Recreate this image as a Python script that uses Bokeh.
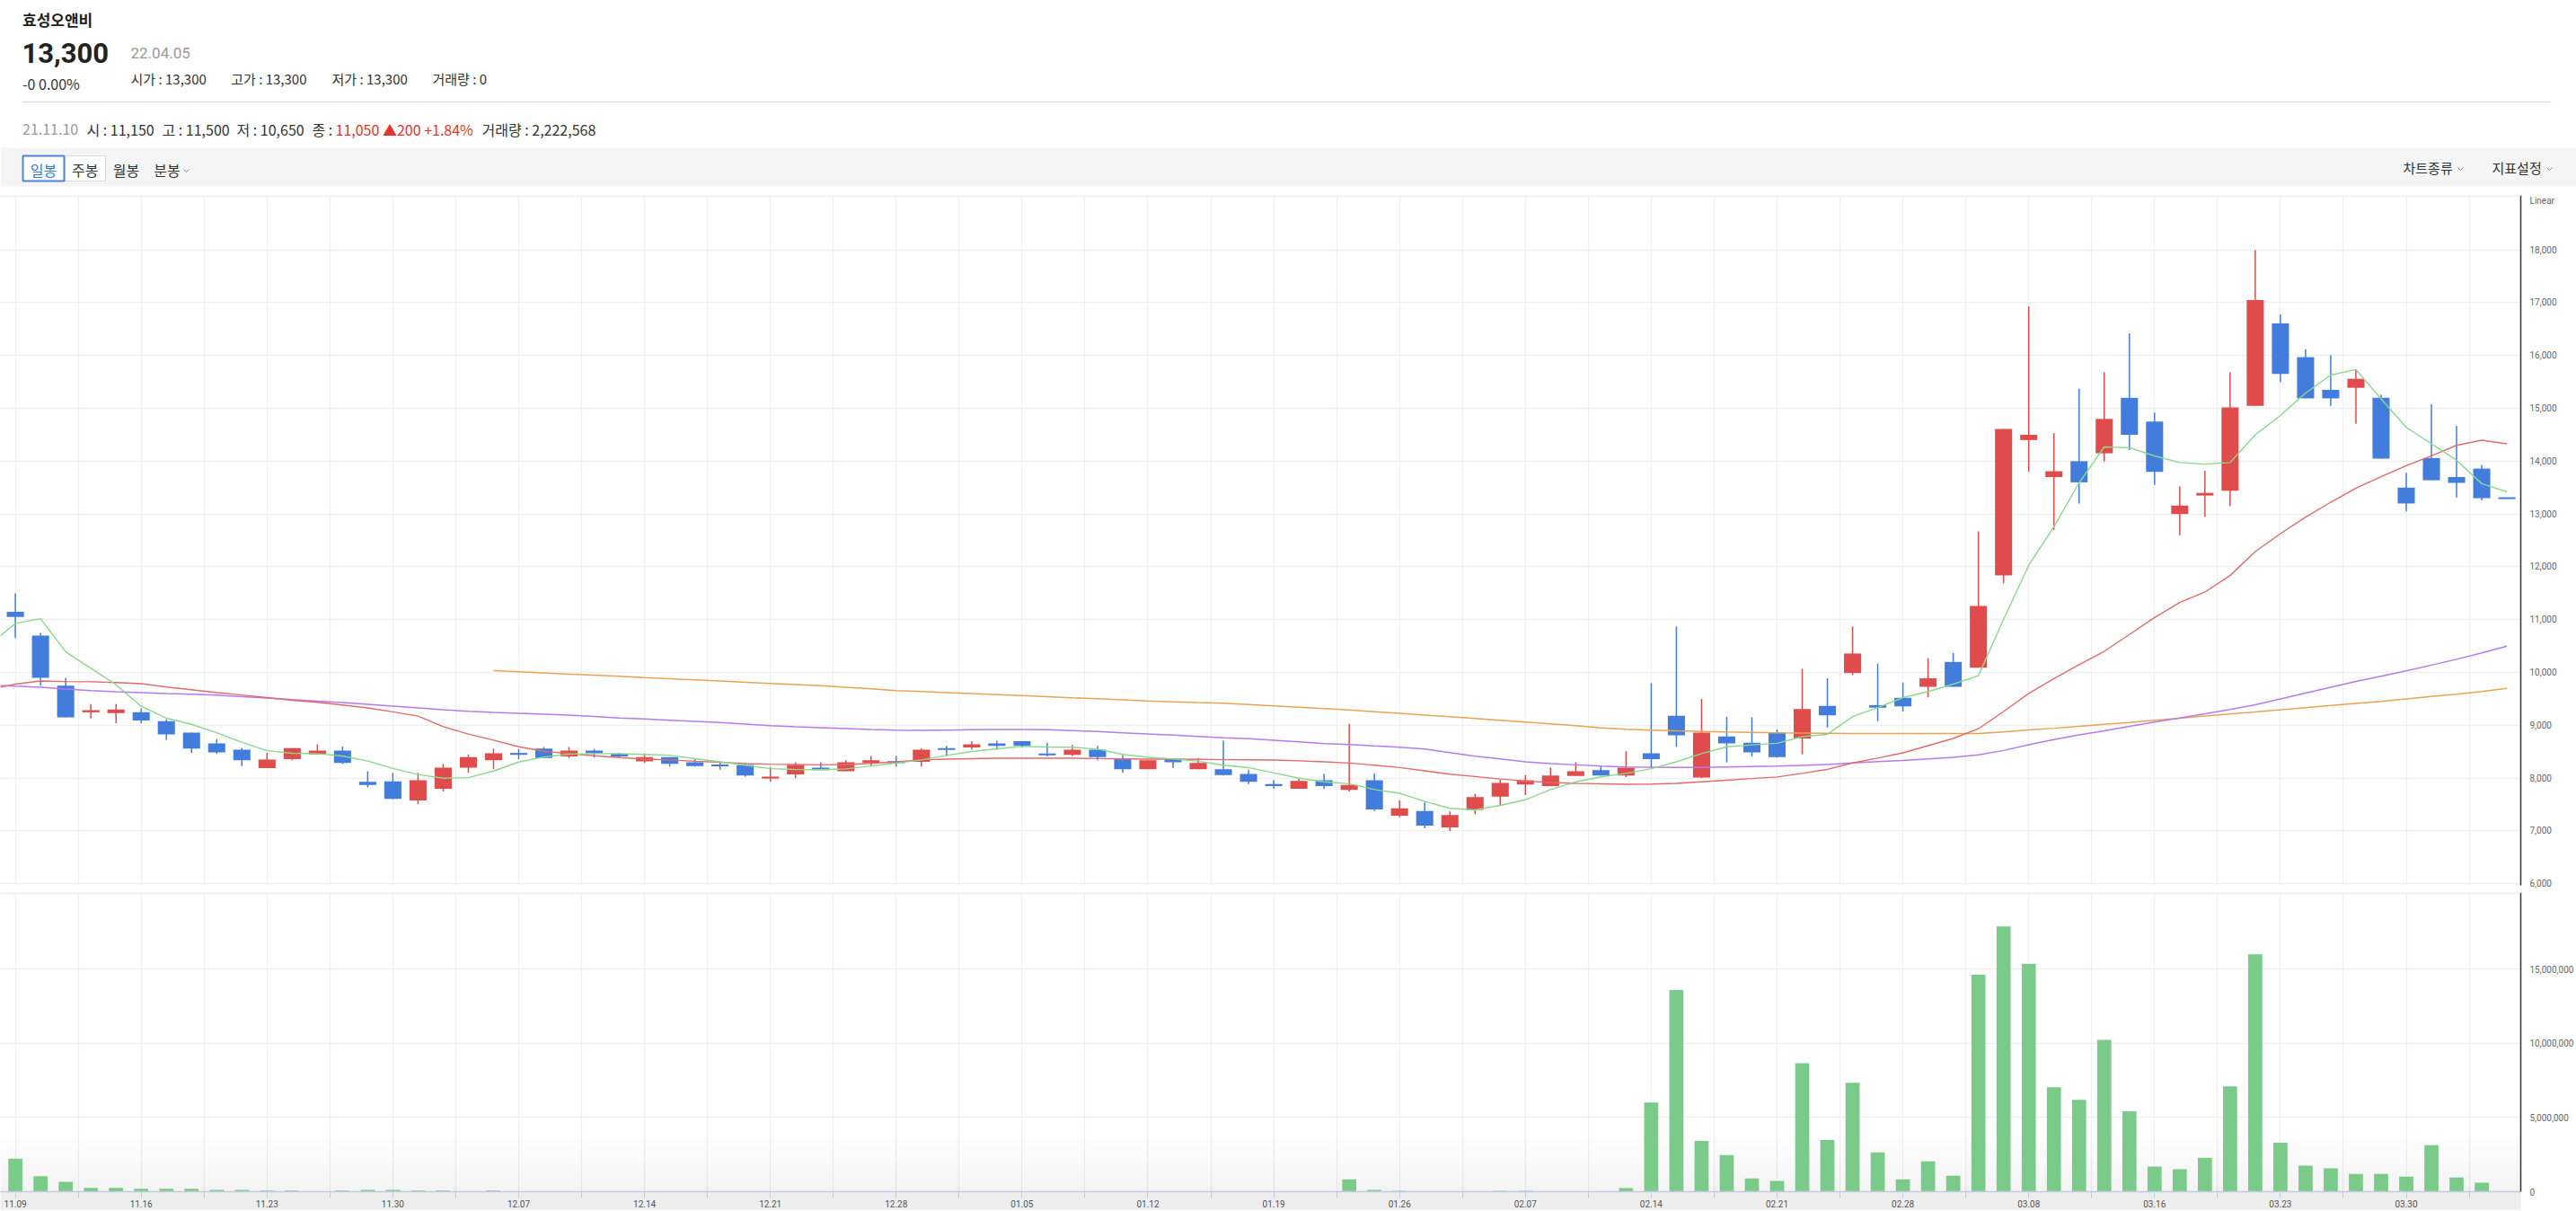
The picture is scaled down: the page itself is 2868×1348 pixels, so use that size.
import math
from bokeh.plotting import figure
from bokeh.layouts import column
from bokeh.models import (Range1d, FixedTicker, NumeralTickFormatter, ColumnDataSource, Span)
from bokeh.core.properties import value
from bokeh.embed import file_html
from bokeh.resources import INLINE

# ---------------- data ----------------
date_labels = ["11.09", "11.16", "11.23", "11.30", "12.07", "12.14", "12.21", "12.28",
               "01.05", "01.12", "01.19", "01.26", "02.07", "02.14", "02.21", "02.28",
               "03.08", "03.16", "03.23", "03.30"]

opens = [11150, 10700, 9750, 9250, 9230, 9250, 9080, 8860, 8660, 8540,
         8190, 8360, 8450, 8520, 7930, 7940, 7580, 7800, 8200, 8340,
         8470, 8560, 8410, 8520, 8460, 8320, 8400, 8300, 8250, 8250,
         8000, 8070, 8200, 8130, 8290, 8320, 8310, 8560, 8580, 8660,
         8700, 8460, 8440, 8540, 8370, 8170, 8370, 8170, 8170, 8080,
         7890, 7800, 7960, 7780, 7960, 7290, 7380, 7070, 7400, 7650,
         7880, 7850, 8040, 8150, 8050, 8470, 9180, 8010, 8790, 8670,
         8860, 8750, 9370, 9990, 9380, 9520, 9730, 10200, 10090, 11840,
         14400, 13700, 14000, 14150, 15200, 14750, 13000, 13350, 13440, 15050,
         16610, 15970, 15350, 15390, 15200, 13500, 14060, 13700, 13860, 13300]
highs = [11500, 10750, 9900, 9400, 9400, 9320, 9110, 8860, 8740, 8570,
         8480, 8570, 8640, 8600, 8130, 8100, 8100, 8270, 8450, 8560,
         8550, 8590, 8590, 8550, 8480, 8470, 8400, 8370, 8310, 8290,
         8210, 8300, 8300, 8340, 8420, 8420, 8570, 8610, 8700, 8710,
         8700, 8670, 8630, 8610, 8440, 8340, 8370, 8380, 8710, 8160,
         7960, 8000, 8080, 9030, 8090, 7580, 7540, 7370, 7700, 7970,
         8060, 8200, 8300, 8240, 8510, 9800, 10870, 9500, 9160, 9150,
         8920, 10070, 9890, 10870, 10170, 9810, 10270, 10370, 12670, 14610,
         16930, 14530, 15370, 15680, 16420, 14920, 13520, 13820, 15680, 18000,
         16780, 16120, 16010, 15740, 15260, 13780, 15080, 14670, 13930, 13300]
lows = [10650, 9750, 9150, 9130, 9040, 9040, 8720, 8480, 8460, 8230,
        8190, 8340, 8450, 8270, 7830, 7600, 7510, 7750, 8100, 8170,
        8360, 8380, 8380, 8390, 8390, 8290, 8220, 8220, 8160, 8030,
        7930, 8000, 8160, 8130, 8240, 8220, 8220, 8420, 8540, 8540,
        8580, 8410, 8420, 8340, 8100, 8170, 8190, 8170, 8050, 7890,
        7800, 7800, 7800, 7750, 7380, 7260, 7050, 7000, 7320, 7490,
        7680, 7850, 8040, 8050, 8020, 8200, 8590, 8000, 8300, 8410,
        8390, 8450, 8960, 9950, 9080, 9260, 9530, 9730, 10090, 11690,
        13800, 12700, 13200, 14000, 14210, 13550, 12600, 12950, 13150, 15050,
        15500, 15190, 15050, 14710, 14050, 13050, 13640, 13310, 13260, 13300]
closes = [11050, 9900, 9150, 9270, 9300, 9090, 8830, 8560, 8490, 8340,
          8350, 8570, 8520, 8290, 7870, 7610, 7960, 8200, 8400, 8470,
          8460, 8380, 8520, 8490, 8410, 8400, 8270, 8230, 8240, 8050,
          8010, 8250, 8170, 8300, 8340, 8300, 8540, 8550, 8640, 8630,
          8610, 8450, 8540, 8400, 8170, 8340, 8300, 8290, 8060, 7930,
          7850, 7950, 7850, 7870, 7410, 7430, 7100, 7300, 7640, 7910,
          7960, 8050, 8130, 8050, 8200, 8360, 8810, 8860, 8660, 8490,
          8400, 9310, 9190, 10360, 9350, 9360, 9890, 9730, 11260, 14610,
          14500, 13810, 13600, 14800, 14500, 13800, 13160, 13400, 15020, 17050,
          15650, 15190, 15190, 15560, 14050, 13200, 13640, 13590, 13300, 13300]
# volume in millions of shares
volumes_m = [2.22, 1.04, 0.67, 0.25, 0.25, 0.19, 0.19, 0.19, 0.12, 0.12,
             0.08, 0.08, 0.02, 0.08, 0.12, 0.12, 0.08, 0.08, 0.02, 0.08,
             0.03, 0.02, 0.02, 0.03, 0.02, 0.02, 0.01, 0.02, 0.03, 0.02,
             0.02, 0.02, 0.03, 0.02, 0.02, 0.03, 0.02, 0.02, 0.01, 0.02,
             0.02, 0.03, 0.02, 0.02, 0.02, 0.03, 0.02, 0.02, 0.02, 0.03,
             0.02, 0.02, 0.03, 0.84, 0.12, 0.06, 0.02, 0.01, 0.01, 0.06,
             0.06, 0.02, 0.02, 0.02, 0.24, 6.02, 13.61, 3.43, 2.47, 0.90,
             0.72, 8.67, 3.49, 7.35, 2.65, 0.84, 2.05, 1.08, 14.64, 17.89,
             15.36, 7.05, 6.20, 10.24, 5.42, 1.69, 1.51, 2.29, 7.11, 16.02,
             3.31, 1.75, 1.57, 1.20, 1.20, 1.02, 3.13, 0.96, 0.60, 0.0]

# moving averages, index -1 .. 99
ma5 = [10535, 10930, 11020, 10390, 10080, 9770, 9360, 9135, 9020, 8860, 8680,
       8520, 8470, 8465, 8420, 8325, 8185, 8070, 8000, 8010, 8135,
       8305, 8400, 8455, 8465, 8465, 8450, 8435, 8370, 8310, 8245,
       8180, 8165, 8160, 8175, 8230, 8285, 8345, 8430, 8505, 8555,
       8600, 8590, 8585, 8550, 8450, 8395, 8365, 8320, 8245, 8200,
       8100, 8000, 7930, 7895, 7785, 7715, 7560, 7430, 7400, 7485,
       7590, 7785, 7930, 8025, 8090, 8180, 8310, 8465, 8595, 8630,
       8660, 8785, 8830, 9165, 9335, 9525, 9640, 9780, 9940, 11010,
       12030, 12760, 13590, 14270, 14255, 14100, 13975, 13945, 13975, 14500,
       14865, 15290, 15630, 15735, 15180, 14640, 14330, 14020, 13575, 13420]
ma20 = [9680, 9780, 9840, 9830, 9825, 9810, 9790, 9725, 9675, 9620, 9575,
        9525, 9475, 9435, 9385, 9330, 9255, 9175, 8975, 8835, 8720,
        8595, 8510, 8465, 8425, 8390, 8360, 8345, 8320, 8300, 8275,
        8265, 8258, 8252, 8258, 8280, 8310, 8345, 8360, 8370, 8377,
        8377, 8377, 8377, 8371, 8365, 8360, 8360, 8355, 8350, 8348,
        8343, 8328, 8309, 8286, 8246, 8201, 8139, 8076, 8031, 7985,
        7946, 7917, 7900, 7894, 7885, 7888, 7901, 7932, 7962, 7992,
        8023, 8091, 8167, 8289, 8380, 8479, 8616, 8752, 8935, 9261,
        9603, 9884, 10150, 10401, 10720, 11040, 11326, 11524, 11836, 12289,
        12629, 12941, 13224, 13490, 13705, 13915, 14102, 14300, 14397, 14329]
ma60 = [9765, 9741, 9719, 9685, 9656, 9634, 9617, 9600, 9588, 9571, 9543,
        9515, 9486, 9458, 9430, 9396, 9362, 9328, 9294, 9265, 9243,
        9226, 9209, 9192, 9169, 9140, 9120, 9098, 9075, 9052, 9024,
        8996, 8973, 8956, 8939, 8922, 8910, 8905, 8910, 8916, 8922,
        8922, 8916, 8899, 8882, 8859, 8837, 8814, 8791, 8766, 8746,
        8717, 8689, 8655, 8638, 8610, 8587, 8553, 8485, 8417, 8366,
        8309, 8275, 8252, 8229, 8212, 8208, 8205, 8205, 8213, 8220,
        8228, 8243, 8258, 8289, 8312, 8335, 8365, 8395, 8441, 8524,
        8631, 8730, 8821, 8897, 8980, 9060, 9140, 9220, 9300, 9390,
        9500, 9610, 9720, 9830, 9930, 10030, 10140, 10250, 10370, 10500]
nan = float("nan")
ma120 = [nan] * 20 + [
        10036, 10014, 9991, 9968, 9951, 9929, 9904, 9882, 9860, 9838,
        9816, 9794, 9772, 9750, 9720, 9690, 9659, 9640, 9620, 9600,
        9582, 9563, 9543, 9522, 9502, 9481, 9461, 9445, 9430, 9421,
        9395, 9369, 9343, 9317, 9291, 9259, 9227, 9195, 9163, 9132,
        9098, 9064, 9030, 8995, 8950, 8925, 8910, 8897, 8885, 8873,
        8866, 8859, 8855, 8851, 8847, 8844, 8844, 8844, 8844, 8844,
        8875, 8912, 8945, 8981, 9018, 9055, 9095, 9135, 9175, 9215,
        9255, 9295, 9335, 9375, 9415, 9455, 9500, 9545, 9590, 9640, 9700]

price_ticks = list(range(6000, 18001, 1000))
volume_ticks = [0, 5_000_000, 10_000_000, 15_000_000]
scale_caption = "Linear"

# ---------------- styling ----------------
RED = "#e04b4b"
BLUE = "#427ddd"
VOLC = "#7acb89"
C_MA5 = "#8ad88c"
C_MA20 = "#e36a6a"
C_MA60 = "#b57af0"
C_MA120 = "#eaa352"
GRID = "#f0f0f0"
AXC = "#c3cbe0"
KR = value("Noto Sans CJK KR")
RB = value("Roboto")

W = 2868
xr = Range1d(-0.592, 99.55)

n = len(closes)
idx = list(range(n))
ma_x = list(range(-1, n))

# ---------------- header ----------------
hdr = figure(width=W, height=217, x_range=Range1d(0, W), y_range=Range1d(217, 0),
             output_backend="svg", toolbar_location=None, min_border=0,
             x_axis_location=None, y_axis_location=None)
if "frame_align" in hdr.properties():
    hdr.frame_align = False
hdr.xgrid.visible = False
hdr.ygrid.visible = False
hdr.outline_line_color = None


def txt(x, y, s, size, color="#333333", bold=False, align="left", baseline="alphabetic", font=KR):
    hdr.text(x=[x], y=[y], text=[s], text_font=font, text_font_size=value(f"{size}px"),
             text_color=color, text_font_style="bold" if bold else "normal",
             text_align=align, text_baseline=baseline)


txt(24.5, 21, "효성오앤비", 17, "#222222", bold=True)
txt(24, 58, "13,300", 31, "#222222", bold=True, font=RB)
txt(145, 58, "22.04.05", 17, "#999999", font=RB)
txt(24.5, 92, "-0 0.00%", 16, "#333333")
txt(145, 87, "시가 : 13,300", 15)
txt(256.7, 87, "고가 : 13,300", 15)
txt(369, 87, "저가 : 13,300", 15)
txt(481, 87, "거래량 : 0", 15)
hdr.segment(x0=[24.5], y0=[113], x1=[2840], y1=[113], line_color="#dddddd", line_width=1.5)

txt(24.5, 143, "21.11.10", 16, "#999999")
txt(96, 143, "시 : 11,150", 16)
txt(180, 143, "고 : 11,500", 16)
txt(263, 143, "저 : 10,650", 16)
txt(347, 143, "종 : ", 16)
txt(373, 143, "11,050 ▲200 +1.84%", 16, "#e5322d")
txt(536, 143, "거래량 : 2,222,568", 16)

# toolbar band
hdr.quad(left=[0], right=[W], top=[164], bottom=[207], fill_color="#f5f5f5", line_color=None)
hdr.quad(left=[71.4, 117, 163], right=[117, 163, 219], top=[173], bottom=[201],
         fill_color="white", line_color="#dcdcdc", line_width=1.2)
hdr.quad(left=[25], right=[71], top=[173], bottom=[201],
         fill_color="white", line_color="#4a84e4", line_width=2)
txt(48, 188, "일봉", 16, "#3a78e0", align="center", baseline="middle")
txt(94.2, 188, "주봉", 16, align="center", baseline="middle")
txt(140, 188, "월봉", 16, align="center", baseline="middle")
txt(185.5, 188, "분봉", 16, align="center", baseline="middle")
hdr.line(x=[204, 207, 210], y=[188, 191, 188], line_color="#888888", line_width=1)
txt(2675, 186, "차트종류", 15, baseline="middle")
hdr.line(x=[2736, 2739, 2742], y=[186, 189, 186], line_color="#888888", line_width=1)
txt(2774, 186, "지표설정", 15, baseline="middle")
hdr.line(x=[2835, 2838, 2841], y=[186, 189, 186], line_color="#888888", line_width=1)

# ---------------- price panel ----------------
p = figure(width=W, height=776, x_range=xr, y_range=Range1d(5971, 19032),
           output_backend="svg", toolbar_location=None, x_axis_location=None,
           y_axis_location="right", min_border_left=0, min_border_right=58,
           min_border_top=0, min_border_bottom=8)
p.outline_line_color = None
grid_ticks = [2.5 * k for k in range(40)]
p.xgrid.ticker = FixedTicker(ticks=grid_ticks)
p.ygrid.ticker = FixedTicker(ticks=price_ticks)
p.grid.grid_line_color = GRID
p.grid.grid_line_width = 1.3
caption_pos = 18975
ax = p.yaxis[0]
ax.ticker = FixedTicker(ticks=price_ticks + [caption_pos])
ax.formatter = NumeralTickFormatter(format="0,0")
ax.major_label_overrides = {caption_pos: scale_caption}
ax.major_tick_line_color = None
ax.minor_tick_line_color = None
ax.axis_line_color = "#333333"
ax.axis_line_width = 1.5
ax.major_label_text_color = "#666666"
ax.major_label_text_font = "Roboto"
ax.major_label_text_font_size = "10px"
ax.major_label_standoff = 4
p.add_layout(Span(location=19020, dimension="width", line_color="#eaeaea", line_width=1.3))

colors = [RED if c > o else BLUE for o, c in zip(opens, closes)]
src = ColumnDataSource(dict(x=idx, top=[max(o, c) for o, c in zip(opens, closes)],
                            bottom=[min(o, c) for o, c in zip(opens, closes)],
                            high=highs, low=lows, color=colors))
p.segment(x0="x", y0="high", x1="x", y1="low", line_color="color", line_width=1.5, source=src)
p.vbar(x="x", top="top", bottom="bottom", width=0.68, fill_color="color", line_color=None, source=src)
flat = [i for i in idx if abs(opens[i] - closes[i]) < 35]
p.segment(x0=[i - 0.34 for i in flat], x1=[i + 0.34 for i in flat],
          y0=[closes[i] for i in flat], y1=[closes[i] for i in flat],
          line_color=[colors[i] for i in flat], line_width=2)

p.line(ma_x, ma120, line_color=C_MA120, line_width=1.5)
p.line(ma_x, ma60, line_color=C_MA60, line_width=1.5)
p.line(ma_x, ma20, line_color=C_MA20, line_width=1.4)
p.line(ma_x, ma5, line_color=C_MA5, line_width=1.4)

# ---------------- volume panel ----------------
volumes = [vv * 1_000_000 for vv in volumes_m]
v = figure(width=W, height=355, x_range=xr, y_range=Range1d(0, 20_180_000),
           output_backend="svg", toolbar_location=None, y_axis_location="right",
           x_axis_location="below", min_border_left=0, min_border_right=58,
           min_border_top=0, min_border_bottom=22)
v.outline_line_color = None
v.xgrid.ticker = FixedTicker(ticks=grid_ticks)
v.ygrid.ticker = FixedTicker(ticks=volume_ticks)
v.grid.grid_line_color = GRID
v.grid.grid_line_width = 1.3
vy = v.yaxis[0]
vy.ticker = FixedTicker(ticks=volume_ticks)
vy.formatter = NumeralTickFormatter(format="0,0")
vy.major_tick_line_color = None
vy.minor_tick_line_color = None
vy.axis_line_color = "#333333"
vy.axis_line_width = 1.5
vy.major_label_text_color = "#666666"
vy.major_label_text_font = "Roboto"
vy.major_label_text_font_size = "10px"
vy.major_label_standoff = 4

label_pos = [5 * k for k in range(len(date_labels))]
vx = v.xaxis[0]
vx.ticker = FixedTicker(ticks=label_pos, minor_ticks=[t + 2.5 for t in label_pos])
vx.major_label_overrides = {t: s for t, s in zip(label_pos, date_labels)}
vx.major_label_text_font = "Roboto"
vx.major_label_text_font_size = "10px"
vx.major_label_text_color = "#555555"
vx.major_label_standoff = 2
vx.major_tick_in = 0
vx.major_tick_out = 7
vx.minor_tick_in = 0
vx.minor_tick_out = 7
vx.axis_line_color = AXC
vx.major_tick_line_color = AXC
vx.minor_tick_line_color = AXC
vx.axis_line_width = 1.3
if "background_fill_color" in vx.properties():
    vx.background_fill_color = "#eeeeee"
v.add_layout(Span(location=20_150_000, dimension="width", line_color="#eaeaea", line_width=1.3))

# faint gradient near the bottom of the volume panel
band_h = 0.36e6
for k in range(10):
    v.quad(left=[-1], right=[101], bottom=[k * band_h], top=[(k + 1) * band_h],
           fill_color="#000000", fill_alpha=0.045 - 0.0042 * k, line_color=None)

v.vbar(x=idx, top=volumes, width=0.56, fill_color=VOLC, line_color=None)

layout = column(hdr, p, v, spacing=0)
open("out.html", "w").write(file_html(layout, INLINE))
